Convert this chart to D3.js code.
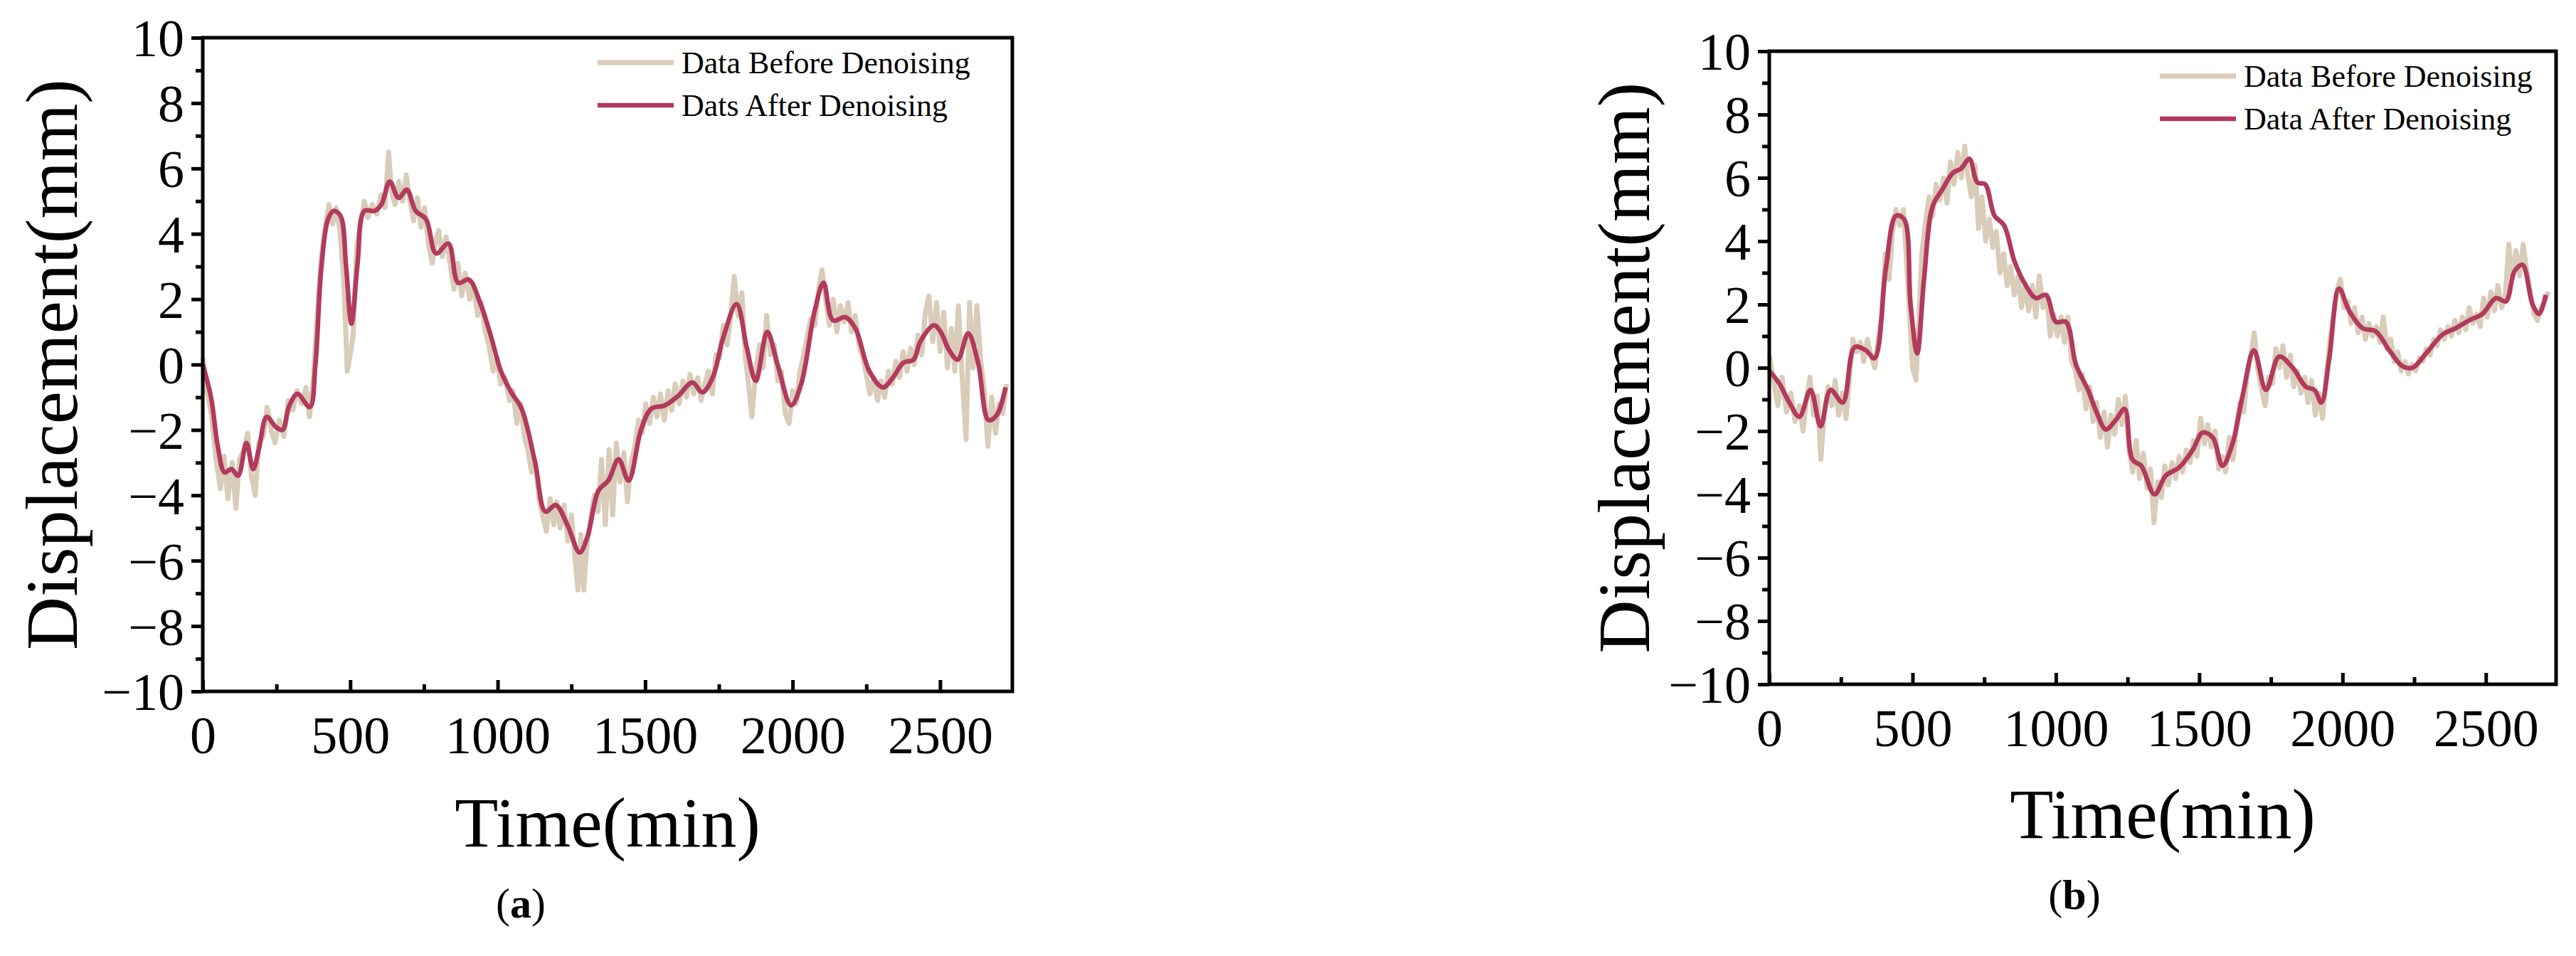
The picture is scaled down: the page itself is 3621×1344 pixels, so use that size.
<!DOCTYPE html>
<html><head><meta charset="utf-8">
<script src="https://cdn.jsdelivr.net/npm/d3@7"></script>
<style>html,body{margin:0;background:#fff}svg{display:block}</style>
</head><body>
<svg id="c" width="3621" height="1344"></svg>
<script>
const xTicks=[0,500,1000,1500,2000,2500];
const yTicks=[-10,-8,-6,-4,-2,0,2,4,6,8,10];
const smoothA=[[0,0],[28,-1.0],[51,-2.5],[74,-3.3],[97,-3.2],[120,-3.4],[148,-2.4],[171,-3.2],[190,-2.6],[217,-1.6],[247,-1.9],[270,-2.0],[294,-1.25],[321,-0.9],[363,-1.3],[382,0],[402,2.95],[425,4.45],[444,4.7],[467,4.55],[486,3.0],[504,1.25],[525,3.1],[548,4.7],[583,4.7],[606,4.9],[634,5.6],[664,5.1],[692,5.35],[722,4.7],[757,4.45],[791,3.4],[833,3.7],[866,2.5],[902,2.6],[942,1.85],[976,0.9],[1011,-0.2],[1046,-0.85],[1081,-1.35],[1127,-3.0],[1162,-4.5],[1197,-4.3],[1236,-4.9],[1278,-5.75],[1305,-5.25],[1342,-3.85],[1375,-3.55],[1410,-2.9],[1444,-3.55],[1486,-2.0],[1521,-1.35],[1567,-1.25],[1613,-0.95],[1660,-0.55],[1694,-0.85],[1729,-0.4],[1764,0.8],[1810,1.85],[1845,0.5],[1875,-0.5],[1914,1.0],[1949,0],[1995,-1.25],[2029,-0.6],[2075,1.65],[2105,2.5],[2137,1.35],[2179,1.45],[2213,1.1],[2260,-0.2],[2306,-0.7],[2340,-0.4],[2375,0.05],[2410,0.15],[2433,0.7],[2479,1.2],[2502,1.0],[2530,0.45],[2560,0.15],[2595,0.95],[2629,0.05],[2664,-1.7],[2692,-1.55],[2722,-0.7]];
const rawA=[[0,0.2],[15,-0.8],[30,-1.6],[45,-2.9],[60,-3.8],[72,-2.8],[85,-4.1],[100,-3.0],[112,-4.4],[125,-2.9],[140,-2.6],[152,-2.1],[165,-3.4],[178,-4.0],[190,-2.4],[205,-2.2],[218,-1.3],[232,-2.0],[245,-2.4],[260,-1.7],[275,-2.2],[290,-1.1],[305,-1.4],[320,-0.8],[335,-1.2],[350,-0.7],[362,-1.6],[375,-0.4],[390,1.8],[402,3.3],[415,4.2],[428,4.9],[440,4.3],[452,4.8],[465,4.1],[478,2.6],[490,-0.2],[500,0.3],[510,0.9],[522,3.6],[535,4.3],[548,5.0],[560,4.5],[575,4.9],[590,4.6],[605,5.2],[618,4.8],[630,6.5],[640,5.3],[652,4.9],[665,5.6],[678,5.0],[690,5.8],[702,5.0],[715,4.4],[728,5.1],[740,4.2],[752,4.8],[765,3.7],[778,3.1],[790,3.8],[800,4.1],[812,3.3],[825,3.9],[840,3.0],[852,2.3],[865,3.1],[878,2.1],[890,2.8],[905,2.0],[918,2.4],[932,1.5],[945,1.9],[958,1.0],[970,0.6],[985,-0.2],[998,0.2],[1010,-0.6],[1025,-0.4],[1040,-1.1],[1052,-0.8],[1065,-1.8],[1078,-1.2],[1090,-2.2],[1102,-2.6],[1115,-3.3],[1128,-3.0],[1140,-4.1],[1152,-4.6],[1165,-5.1],[1178,-4.1],[1190,-4.9],[1200,-4.2],[1212,-5.0],[1225,-4.3],[1238,-5.4],[1250,-4.6],[1262,-5.9],[1272,-6.9],[1282,-5.2],[1292,-6.9],[1302,-5.6],[1315,-4.7],[1328,-4.0],[1340,-4.5],[1352,-2.9],[1365,-4.9],[1378,-2.6],[1390,-4.6],[1402,-2.4],[1415,-3.6],[1428,-2.7],[1440,-4.2],[1452,-3.0],[1465,-2.5],[1478,-1.7],[1490,-2.1],[1502,-1.2],[1515,-1.8],[1528,-1.0],[1540,-1.6],[1552,-0.9],[1565,-1.7],[1578,-0.8],[1590,-1.4],[1602,-0.6],[1615,-1.2],[1628,-0.5],[1640,-1.0],[1652,-0.3],[1665,-0.9],[1678,-0.4],[1690,-1.1],[1702,-0.6],[1715,-0.2],[1728,-0.9],[1740,0.3],[1752,0.2],[1765,1.2],[1778,0.6],[1790,1.5],[1802,2.7],[1815,1.5],[1828,2.2],[1840,0.2],[1852,-0.7],[1862,-1.6],[1875,-0.2],[1888,0.6],[1900,-0.1],[1912,1.5],[1925,0.3],[1938,0.6],[1950,-0.5],[1962,-0.2],[1975,-1.5],[1988,-1.8],[2000,-0.8],[2012,-1.2],[2025,-0.2],[2038,0.3],[2050,0.9],[2062,1.4],[2075,1.2],[2088,2.3],[2100,2.9],[2112,2.0],[2125,1.2],[2138,2.0],[2150,1.0],[2162,1.8],[2175,1.3],[2188,1.9],[2200,1.0],[2212,1.5],[2225,0.6],[2238,0.2],[2250,-0.3],[2262,-0.9],[2275,-0.4],[2288,-1.1],[2300,-0.5],[2312,-1.0],[2325,-0.2],[2338,-0.6],[2350,0.1],[2362,-0.4],[2375,0.4],[2388,-0.2],[2400,0.5],[2412,0.0],[2425,0.9],[2438,0.3],[2450,1.6],[2462,2.1],[2475,0.7],[2488,1.9],[2500,0.4],[2512,1.6],[2525,-0.1],[2538,1.1],[2550,-0.2],[2562,1.8],[2575,-0.4],[2588,-2.3],[2600,1.9],[2612,-0.1],[2625,1.8],[2638,0.1],[2650,-0.8],[2662,-2.5],[2675,-1.0],[2688,-2.1],[2700,-1.2],[2712,-1.5],[2725,-0.6]];
const smoothB=[[0,-0.1],[35,-0.5],[70,-1.1],[105,-1.55],[144,-0.7],[179,-1.85],[214,-0.7],[256,-1.1],[298,0.65],[337,0.55],[367,0.3],[407,3.15],[442,4.8],[470,4.7],[493,2.0],[516,0.45],[540,2.8],[570,5.1],[605,5.65],[640,6.15],[670,6.3],[698,6.6],[726,5.85],[753,5.8],[786,4.8],[819,4.5],[856,3.35],[895,2.6],[930,2.2],[965,2.3],[1000,1.45],[1035,1.45],[1070,0.1],[1112,-0.7],[1144,-1.45],[1174,-1.95],[1209,-1.65],[1240,-1.3],[1267,-2.9],[1298,-3.1],[1344,-4.0],[1384,-3.4],[1430,-3.15],[1477,-2.6],[1512,-2.05],[1547,-2.2],[1581,-3.1],[1616,-2.4],[1651,-0.9],[1691,0.55],[1733,-0.7],[1779,0.35],[1826,0],[1872,-0.6],[1902,-0.7],[1926,-1.1],[1953,0.25],[1988,2.5],[2023,1.8],[2070,1.25],[2116,1.15],[2163,0.55],[2209,0.05],[2244,0],[2291,0.45],[2349,1.05],[2395,1.25],[2442,1.5],[2488,1.7],[2535,2.2],[2570,2.1],[2600,3.05],[2628,3.25],[2663,2.0],[2686,1.7],[2709,2.3]];
const rawB=[[0,0.4],[15,-0.4],[30,-1.2],[45,-0.3],[60,-1.4],[75,-0.8],[90,-1.7],[105,-1.2],[118,-2.0],[130,-1.0],[142,-0.3],[155,-1.5],[168,-0.9],[180,-2.9],[192,-1.4],[205,-0.6],[218,-1.2],[230,-0.4],[242,-1.5],[255,-0.8],[268,-1.6],[280,-0.3],[292,0.9],[305,0.5],[318,0.8],[330,0.2],[342,0.9],[355,0.4],[368,0.0],[380,0.9],[392,1.6],[405,3.6],[418,2.8],[430,4.3],[442,5.0],[455,4.5],[468,5.0],[478,3.5],[490,1.6],[500,0.0],[512,-0.4],[522,1.5],[532,3.6],[545,4.6],[558,5.4],[570,4.8],[582,5.8],[595,5.3],[608,6.0],[620,5.2],[632,6.5],[645,5.8],[658,6.8],[670,6.0],[682,7.0],[692,6.1],[705,5.4],[718,6.4],[730,4.4],[742,5.4],[755,4.0],[768,4.7],[780,3.8],[792,4.3],[805,3.0],[818,3.6],[830,2.6],[842,3.2],[855,2.3],[868,2.9],[880,1.9],[892,2.6],[905,1.8],[918,2.6],[930,1.6],[942,2.9],[955,1.9],[968,2.3],[980,1.0],[992,1.7],[1005,1.0],[1018,1.6],[1030,0.8],[1042,1.6],[1055,0.2],[1068,-0.1],[1080,-0.7],[1092,-0.2],[1105,-1.3],[1118,-0.6],[1130,-1.7],[1142,-1.1],[1155,-2.2],[1168,-1.4],[1180,-2.5],[1192,-1.5],[1205,-2.1],[1218,-1.0],[1230,-1.8],[1242,-0.9],[1255,-2.6],[1268,-3.3],[1280,-2.3],[1292,-3.5],[1305,-2.7],[1318,-3.8],[1330,-3.2],[1342,-4.9],[1355,-3.6],[1368,-4.1],[1380,-3.1],[1392,-3.7],[1405,-3.0],[1418,-3.5],[1430,-2.8],[1442,-3.3],[1455,-2.6],[1468,-3.0],[1480,-2.3],[1492,-2.8],[1505,-1.6],[1518,-2.4],[1530,-1.8],[1542,-2.5],[1555,-2.0],[1568,-3.2],[1580,-2.8],[1592,-3.3],[1605,-2.2],[1618,-2.9],[1630,-1.8],[1642,-1.1],[1655,-1.4],[1668,-0.2],[1680,0.4],[1692,1.1],[1705,-0.1],[1718,-0.7],[1730,-1.2],[1742,-0.3],[1755,-0.5],[1768,0.6],[1780,0.0],[1792,0.7],[1805,-0.3],[1818,0.4],[1830,-0.6],[1842,-0.1],[1855,-0.8],[1868,-0.3],[1880,-1.1],[1892,-0.4],[1905,-1.5],[1918,-0.8],[1930,-1.6],[1942,-0.4],[1955,0.8],[1968,1.6],[1980,2.4],[1992,2.8],[2005,1.9],[2018,2.1],[2030,1.4],[2042,1.9],[2055,1.1],[2068,1.6],[2080,0.9],[2092,1.4],[2105,1.0],[2118,1.3],[2130,0.8],[2142,1.6],[2155,0.6],[2168,0.9],[2180,0.2],[2192,0.5],[2205,-0.1],[2218,0.2],[2230,-0.2],[2242,0.1],[2255,-0.1],[2268,0.3],[2280,0.2],[2292,0.6],[2305,0.4],[2318,0.9],[2330,0.7],[2342,1.2],[2355,0.9],[2368,1.3],[2380,1.0],[2392,1.5],[2405,1.1],[2418,1.6],[2430,1.2],[2442,1.9],[2455,1.4],[2468,1.7],[2480,1.3],[2492,2.2],[2505,1.6],[2518,2.4],[2530,1.8],[2542,2.6],[2555,1.9],[2568,2.3],[2580,3.9],[2592,2.8],[2605,3.7],[2618,2.9],[2630,3.9],[2642,3.1],[2655,2.4],[2668,1.7],[2680,1.5],[2692,1.9],[2705,2.1],[2718,2.4]];
const legendA=["Data Before Denoising","Dats After Denoising"];
const legendB=["Data Before Denoising","Data After Denoising"];

const RAW="#d9ccb8", SM="#b23a5c", FONT="'Liberation Serif','Times New Roman',serif";
const svg=d3.select("#c");

function panel(o){
  const g=svg.append("g");
  const x=d3.scaleLinear().domain([0,2745]).range([o.l,o.r]);
  const y=d3.scaleLinear().domain([-10,10]).range([o.b,o.t]);
  const line=d3.line().x(d=>x(d[0])).y(d=>y(d[1]));
  g.append("path").datum(o.raw).attr("d",line).attr("fill","none").attr("stroke",RAW).attr("stroke-width",7).attr("stroke-linejoin","round");
  g.append("path").datum(o.sm).attr("d",line.curve(d3.curveCatmullRom)).attr("fill","none").attr("stroke",SM).attr("stroke-width",6.5).attr("stroke-linejoin","round");
  // frame
  g.append("rect").attr("x",o.l).attr("y",o.t).attr("width",o.r-o.l).attr("height",o.b-o.t).attr("fill","none").attr("stroke","#000").attr("stroke-width",5);
  // x axis
  const xa=g.append("g").attr("transform",`translate(0,${o.b})`).call(d3.axisBottom(x).tickValues(d3.range(250,2745,500)).tickSize(10).tickFormat(""));
  const xb=g.append("g").attr("transform",`translate(0,${o.b})`).call(d3.axisBottom(x).tickValues(xTicks).tickSize(-16).tickPadding(34).tickFormat(d3.format("d")));
  const ya=g.append("g").attr("transform",`translate(${o.l},0)`).call(d3.axisLeft(y).tickValues(d3.range(-9,10,2)).tickSize(10).tickFormat(""));
  const yb=g.append("g").attr("transform",`translate(${o.l},0)`).call(d3.axisLeft(y).tickValues(yTicks).tickSize(16).tickPadding(10).tickFormat(d=>d<0?"\u2212"+Math.abs(d):d));
  xa.selectAll(".tick line").attr("transform","translate(0,-10)");
  xb.selectAll(".tick line").attr("transform","translate(0,0)");
  [xa,xb,ya,yb].forEach(a=>{a.select(".domain").remove();a.selectAll(".tick line").attr("stroke","#000").attr("stroke-width",5);
    a.selectAll("text").attr("font-family",FONT).attr("font-size",74).attr("fill","#000");});
  xb.selectAll("text").attr("dy","0.71em");
  yb.selectAll("text").attr("dy","0.35em");
  // titles
  g.append("text").attr("x",(o.l+o.r)/2).attr("y",o.xt).attr("text-anchor","middle").attr("font-family",FONT).attr("font-size",100).text("Time(min)");
  g.append("text").attr("transform",`translate(${o.yt},${(o.t+o.b)/2}) rotate(-90)`).attr("text-anchor","middle").attr("dy","0.35em").attr("font-family",FONT).attr("font-size",104).text("Displacement(mm)");
  g.append("text").attr("x",o.lab).attr("y",o.xt+100).attr("text-anchor","middle").attr("font-family",FONT).attr("font-size",60).html(`(<tspan font-weight="bold">${o.letter}</tspan>)`);
  // legend
  [[RAW,o.leg[0],7],[SM,o.leg[1],6.5]].forEach((d,i)=>{
    const yy=o.legY+i*60;
    g.append("line").attr("x1",o.legX).attr("x2",o.legX+107).attr("y1",yy).attr("y2",yy).attr("stroke",d[0]).attr("stroke-width",d[2]);
    g.append("text").attr("x",o.legX+118).attr("y",yy).attr("dy","0.33em").attr("font-family",FONT).attr("font-size",44).text(d[1]);
  });
}
panel({l:285,r:1423,t:53,b:972,raw:rawA,sm:smoothA,leg:legendA,legX:840,legY:88,xt:1190,yt:72,lab:732,letter:"a"});
panel({l:2487,r:3593,t:72,b:962,raw:rawB,sm:smoothB,leg:legendB,legX:3036,legY:107,xt:1178,yt:2282,lab:2916,letter:"b"});
</script>
</body></html>
